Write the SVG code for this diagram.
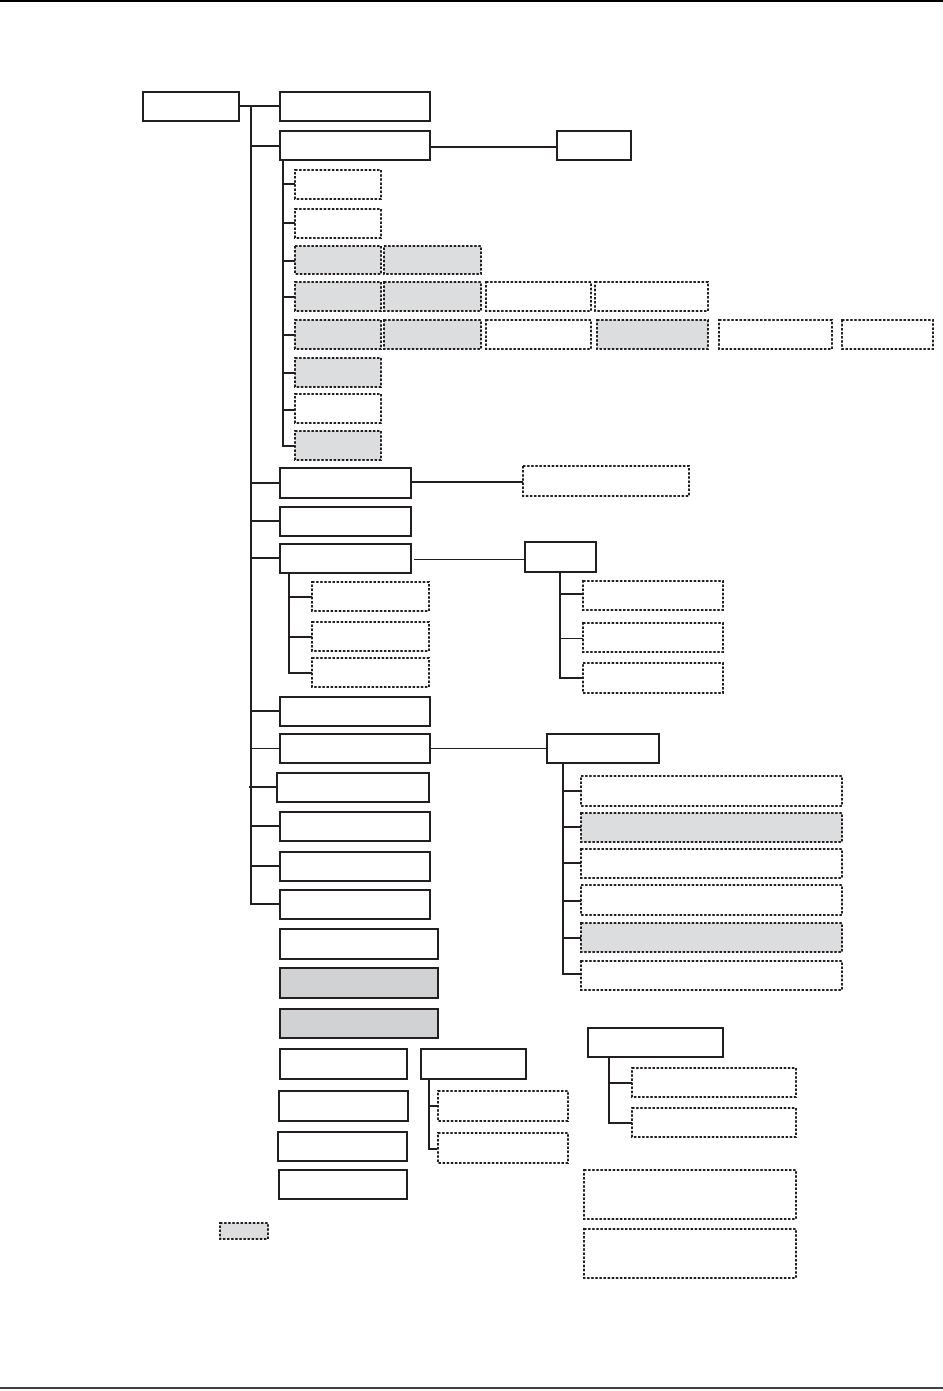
<svg xmlns="http://www.w3.org/2000/svg" width="943" height="1391" viewBox="0 0 943 1391">
<style>
.s{fill:#fff;stroke:#231f20;stroke-width:2}
.sg{fill:#d1d2d4;stroke:#231f20;stroke-width:2}
.d{fill:#fff;stroke:#231f20;stroke-width:2;stroke-dasharray:2.5 1.6}
.dg{fill:#dcdddf;stroke:#231f20;stroke-width:2;stroke-dasharray:2.5 1.6}
.c{fill:none;stroke:#231f20;stroke-width:2}
.t{fill:none;stroke:#231f20;stroke-width:1}
.rule{stroke:#000;fill:none}
</style>
<rect width="943" height="1391" fill="#fff"/>
<line class="rule" x1="0" y1="1" x2="943" y2="1" stroke-width="2"/>
<line class="rule" x1="0" y1="1388" x2="943" y2="1388" stroke-width="1.5"/>
<g id="connectors">
<path class="c" d="M239,106H251V904H280"/>
<path class="c" d="M251,106H280M251,146H280M430,147H557"/>
<path class="c" d="M283,160V446H295M283,184H295M283,223H295M283,261H295M283,297H295M283,335H295M283,373H295M283,410H295"/>
<path class="c" d="M251,483H280M411,482H523M251,521H280M251,558H280"/>
<path class="t" d="M414,559.5H525"/>
<path class="c" d="M289,573V673H312M289,597H312M289,637H312"/>
<path class="c" d="M560,572V678H583M560,594H583"/>
<path class="t" d="M560,638.5H583"/>
<path class="c" d="M251,711H280M249,787H277M251,826H280M251,866H280"/>
<path class="t" d="M251,748.5H280M431,748.5H547"/>
<path class="c" d="M563,763V974H581M563,791H581M563,827H581M563,863H581M563,901H581M563,938H581"/>
<path class="c" d="M429,1079V1149H437M429,1106H437"/>
<path class="c" d="M609,1057V1123H632M609,1083H632"/>
</g>
<g id="root"><rect class="s" x="143" y="92" width="96" height="29"/></g>
<g id="a1"><rect class="s" x="280" y="92" width="150" height="29"/></g>
<g id="a2"><rect class="s" x="280" y="131" width="150" height="29"/></g>
<g id="b"><rect class="s" x="557" y="131" width="74" height="29"/></g>
<g id="a2-1"><rect class="d" x="295" y="170" width="86" height="29"/></g>
<g id="a2-2"><rect class="d" x="295" y="209" width="86" height="29"/></g>
<g id="a2-3"><rect class="dg" x="295" y="246" width="86" height="28"/><rect class="dg" x="384" y="246" width="97" height="28"/></g>
<g id="a2-4"><rect class="dg" x="295" y="282" width="86" height="29"/><rect class="dg" x="384" y="282" width="97" height="29"/><rect class="d" x="486" y="282" width="105" height="29"/><rect class="d" x="595" y="282" width="113" height="29"/></g>
<g id="a2-5"><rect class="dg" x="295" y="320" width="86" height="29"/><rect class="dg" x="384" y="320" width="97" height="29"/><rect class="d" x="486" y="320" width="105" height="29"/><rect class="dg" x="597" y="320" width="111" height="29"/><rect class="d" x="719" y="320" width="113" height="29"/><rect class="d" x="842" y="320" width="91" height="29"/></g>
<g id="a2-6"><rect class="dg" x="295" y="358" width="86" height="29"/></g>
<g id="a2-7"><rect class="d" x="295" y="394" width="86" height="29"/></g>
<g id="a2-8"><rect class="dg" x="295" y="431" width="86" height="29"/></g>
<g id="c1"><rect class="s" x="280" y="468" width="131" height="30"/></g>
<g id="c1x"><rect class="d" x="523" y="466" width="166" height="30"/></g>
<g id="c2"><rect class="s" x="280" y="507" width="131" height="29"/></g>
<g id="c3"><rect class="s" x="280" y="544" width="131" height="29"/></g>
<g id="d"><rect class="s" x="525" y="542" width="71" height="30"/></g>
<g id="c3-1"><rect class="d" x="312" y="582" width="117" height="29"/></g>
<g id="c3-2"><rect class="d" x="312" y="622" width="117" height="29"/></g>
<g id="c3-3"><rect class="d" x="312" y="658" width="117" height="29"/></g>
<g id="d-1"><rect class="d" x="583" y="581" width="140" height="29"/></g>
<g id="d-2"><rect class="d" x="583" y="623" width="140" height="29"/></g>
<g id="d-3"><rect class="d" x="583" y="663" width="140" height="30"/></g>
<g id="e1"><rect class="s" x="280" y="697" width="150" height="29"/></g>
<g id="e2"><rect class="s" x="280" y="734" width="150" height="29"/></g>
<g id="f"><rect class="s" x="547" y="734" width="112" height="29"/></g>
<g id="e3"><rect class="s" x="277" y="773" width="152" height="29"/></g>
<g id="e4"><rect class="s" x="280" y="812" width="150" height="29"/></g>
<g id="e5"><rect class="s" x="280" y="852" width="150" height="29"/></g>
<g id="e6"><rect class="s" x="280" y="890" width="150" height="29"/></g>
<g id="f-1"><rect class="d" x="581" y="776" width="261" height="30"/></g>
<g id="f-2"><rect class="dg" x="581" y="813" width="261" height="29"/></g>
<g id="f-3"><rect class="d" x="581" y="849" width="261" height="29"/></g>
<g id="f-4"><rect class="d" x="581" y="885" width="261" height="30"/></g>
<g id="f-5"><rect class="dg" x="581" y="923" width="261" height="29"/></g>
<g id="f-6"><rect class="d" x="581" y="961" width="261" height="29"/></g>
<g id="g1"><rect class="s" x="280" y="929" width="158" height="30"/></g>
<g id="g2"><rect class="sg" x="280" y="968" width="158" height="30"/></g>
<g id="g3"><rect class="sg" x="280" y="1009" width="158" height="29"/></g>
<g id="h1"><rect class="s" x="280" y="1049" width="127" height="30"/></g>
<g id="h2"><rect class="s" x="279" y="1091" width="129" height="30"/></g>
<g id="h3"><rect class="s" x="278" y="1132" width="129" height="29"/></g>
<g id="h4"><rect class="s" x="279" y="1170" width="128" height="29"/></g>
<g id="i"><rect class="s" x="421" y="1049" width="105" height="30"/></g>
<g id="i-1"><rect class="d" x="438" y="1091" width="130" height="30"/></g>
<g id="i-2"><rect class="d" x="438" y="1133" width="130" height="30"/></g>
<g id="j"><rect class="s" x="588" y="1028" width="135" height="29"/></g>
<g id="j-1"><rect class="d" x="632" y="1068" width="164" height="29"/></g>
<g id="j-2"><rect class="d" x="632" y="1108" width="164" height="29"/></g>
<g id="k1"><rect class="d" x="584" y="1170" width="212" height="49"/></g>
<g id="k2"><rect class="d" x="584" y="1229" width="212" height="49"/></g>
<g id="legend"><rect class="dg" x="220" y="1223" width="48" height="16"/></g>
</svg>
